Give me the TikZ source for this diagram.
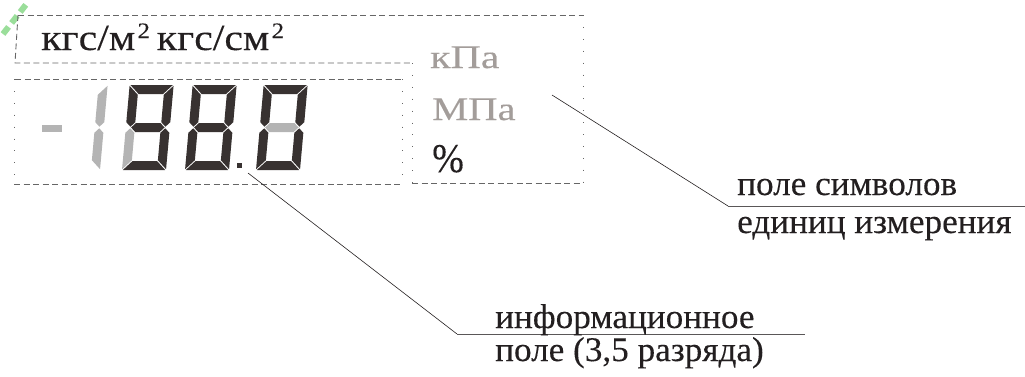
\documentclass[tikz,border=0pt]{standalone}
\usepackage{fontspec}
\setmainfont{Liberation Serif}
\newfontfamily\calloutfont[FakeBold=0.2]{Liberation Serif}
\definecolor{ink}{HTML}{231F20}
\definecolor{segon}{HTML}{383231}
\definecolor{segoff}{HTML}{B4B4B4}
\definecolor{unitgray}{HTML}{A39D9A}
\definecolor{framegray}{HTML}{666666}
\definecolor{brushgreen}{HTML}{9ADE9A}

% seven-segment geometry (local units, origin at bottom-left, y pointing down)
\def\sgW{44}\def\sgH{85}\def\sgT{9}\def\sgG{0.8}\def\sgM{42.5}
\newcommand\segA[1]{\fill[#1] (\sgG,-\sgH) -- ({\sgW-\sgG},-\sgH) -- ({\sgW-\sgT-\sgG},{-(\sgH-\sgT)}) -- ({\sgT+\sgG},{-(\sgH-\sgT)}) -- cycle;}
\newcommand\segB[1]{\fill[#1] (\sgW,{-(\sgH-\sgG)}) -- (\sgW,{-(\sgM+\sgG+\sgT/2)}) -- ({\sgW-\sgT/2},{-(\sgM+\sgG)}) -- ({\sgW-\sgT},{-(\sgM+\sgG+\sgT/2)}) -- ({\sgW-\sgT},{-(\sgH-\sgT-\sgG)}) -- cycle;}
\newcommand\segC[1]{\fill[#1] (\sgW,-\sgG) -- (\sgW,{-(\sgM-\sgG-\sgT/2)}) -- ({\sgW-\sgT/2},{-(\sgM-\sgG)}) -- ({\sgW-\sgT},{-(\sgM-\sgG-\sgT/2)}) -- ({\sgW-\sgT},{-(\sgT+\sgG)}) -- cycle;}
\newcommand\segD[1]{\fill[#1] (\sgG,0) -- ({\sgW-\sgG},0) -- ({\sgW-\sgT-\sgG},-\sgT) -- ({\sgT+\sgG},-\sgT) -- cycle;}
\newcommand\segE[1]{\fill[#1] (0,-\sgG) -- (0,{-(\sgM-\sgG-\sgT/2)}) -- ({\sgT/2},{-(\sgM-\sgG)}) -- (\sgT,{-(\sgM-\sgG-\sgT/2)}) -- (\sgT,{-(\sgT+\sgG)}) -- cycle;}
\newcommand\segF[1]{\fill[#1] (0,{-(\sgH-\sgG)}) -- (0,{-(\sgM+\sgG+\sgT/2)}) -- ({\sgT/2},{-(\sgM+\sgG)}) -- (\sgT,{-(\sgM+\sgG+\sgT/2)}) -- (\sgT,{-(\sgH-\sgT-\sgG)}) -- cycle;}
\newcommand\segG[1]{\fill[#1] ({\sgT/2+\sgG},-\sgM) -- ({\sgT+\sgG},{-(\sgM+\sgT/2)}) -- ({\sgW-\sgT-\sgG},{-(\sgM+\sgT/2)}) -- ({\sgW-\sgT/2-\sgG},-\sgM) -- ({\sgW-\sgT-\sgG},{-(\sgM-\sgT/2)}) -- ({\sgT+\sgG},{-(\sgM-\sgT/2)}) -- cycle;}
% one digit: x position, then colours of segments a..g
\newcommand\segdigit[8]{%
  \begin{scope}[shift={(#1,170)}, xslant=0.09]
    \segA{#2}\segB{#3}\segC{#4}\segD{#5}\segE{#6}\segF{#7}\segG{#8}
  \end{scope}}

\tikzset{
  frame dash/.style={draw=framegray, line width=0.9pt, dash pattern=on 6pt off 3.5pt},
  frame dot/.style={draw=framegray, line width=0.9pt, dash pattern=on 0.9pt off 11pt},
  leader/.style={draw=ink, line width=0.6pt},
  underline/.style={draw=ink!75, line width=1pt},
  callout text/.style={anchor=base west, inner sep=0pt, text=ink, font=\calloutfont\fontsize{34.5}{38}\selectfont},
  unit text/.style={anchor=base west, inner sep=0pt, font=\calloutfont\fontsize{33}{36}\selectfont},
}

\begin{document}
\begin{tikzpicture}[x=1pt,y=-1pt]
\useasboundingbox (0,0) rectangle (1025,376);

% faint brush mark in the corner
\draw[brushgreen, line width=6pt, dash pattern=on 9pt off 5pt] (3,34) -- (28,2);

% unit-symbol frame
\draw[frame dash] (18,15) -- (583,15);
\draw[frame dash] (18,15) -- (15,63) -- (412,63);
\draw[frame dot] (412,63) -- (412,183);
\draw[frame dot] (583,15) -- (583,183);
\draw[frame dash] (412,183) -- (583,183);

% digit frame
\draw[frame dash] (15,79) -- (402,79);
\draw[frame dot] (402,79) -- (402,184);
\draw[frame dash] (14,184) -- (402,184);
\draw[frame dot] (14,79) -- (14,184);

% pressure units above the digits
\node[unit text, text=ink, font=\calloutfont\fontsize{37}{38}\selectfont] (units) at (41,50)
  {\scalebox{1.13}[1]{кгс/м\kern2pt\raisebox{12pt}{\fontsize{22}{22}\selectfont 2}\kern6pt
   кгс/см\kern2pt\raisebox{12pt}{\fontsize{22}{22}\selectfont 2}}};

% units beside the digits
\node[unit text, text=unitgray] (kpa) at (430,68) {\scalebox{1.27}[1]{кПа}};
\node[unit text, text=unitgray] (mpa) at (432,120) {\scalebox{1.23}[1]{МПа}};
\node[unit text, text=ink, font=\calloutfont\fontsize{40}{42}\selectfont] (pct) at (432,172) {\scalebox{0.95}[1.02]{\%}};

% digits
\fill[segoff] (42,125) rectangle (62,132);
\begin{scope}[shift={(56,170)}, xslant=0.09]
  \segB{segoff}\segC{segoff}
\end{scope}
\segdigit{122}{segon}{segon}{segon}{segon}{segoff}{segon}{segon}
\segdigit{185}{segon}{segon}{segon}{segon}{segon}{segon}{segon}
\fill[segon] (237,163) rectangle (242,168);
\segdigit{256}{segon}{segon}{segon}{segon}{segon}{segon}{segoff}

% callout: unit symbols
\coordinate (symtip) at (552,95);
\coordinate (symL) at (728,206);
\coordinate (symR) at (1025,206);
\draw[leader] (symtip) -- (symL);
\draw[underline] (symL) -- (symR);
\node[callout text] (sym1) at (737,195) {\scalebox{1.02}[1]{поле символов}};
\node[callout text] (sym2) at (737,233) {\scalebox{1.02}[1]{единиц измерения}};

% callout: information field
\coordinate (inftip) at (248,173);
\coordinate (infL) at (457,334);
\coordinate (infR) at (805,334);
\draw[leader] (inftip) -- (infL);
\draw[underline] (infL) -- (infR);
\node[callout text] (inf1) at (495,328) {\scalebox{1.02}[1]{информационное}};
\node[callout text] (inf2) at (495,361) {\scalebox{1.02}[1]{поле (3,5 разряда)}};
\end{tikzpicture}
\end{document}
